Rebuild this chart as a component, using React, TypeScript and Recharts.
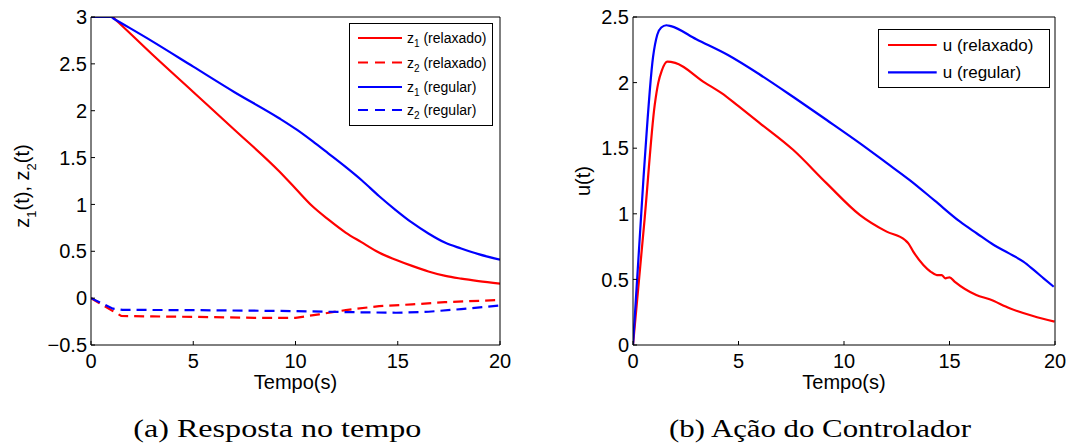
import React from 'react';
import { LineChart, Line, XAxis, YAxis, Legend } from 'recharts';

// ---------- data ----------
const timeTicks = [0, 5, 10, 15, 20];
const zTicks = [-0.5, 0, 0.5, 1, 1.5, 2, 2.5, 3];
const uTicks = [0, 0.5, 1, 1.5, 2, 2.5];

const tZ1Rel = [0, 1.06, 1.15, 3, 5, 7, 9.2, 10, 10.83, 11.6, 12.45, 13.2, 14.08, 14.9, 15.7, 16.5, 17.33, 18.1, 18.95, 20];
const z1Rel = [3, 3, 2.982, 2.6, 2.2, 1.8, 1.354, 1.17, 0.98, 0.84, 0.7, 0.6, 0.486, 0.41, 0.344, 0.285, 0.237, 0.208, 0.182, 0.155];

const tZ2Rel = [0, 1.07, 1.48, 3, 5, 8, 10, 11.15, 12.46, 14.09, 15.7, 17.3, 20];
const z2Rel = [0, -0.138, -0.19, -0.195, -0.2, -0.21, -0.21, -0.173, -0.127, -0.085, -0.067, -0.043, -0.02];

const tZ1Reg = [0, 0.98, 1.08, 3, 5, 7, 9.2, 10.08, 10.83, 11.6, 12.45, 13.25, 14.08, 14.9, 15.7, 16.5, 17.33, 18.1, 18.95, 20];
const z1Reg = [3, 3, 2.987, 2.74, 2.47, 2.2, 1.92, 1.795, 1.675, 1.545, 1.4, 1.255, 1.09, 0.94, 0.805, 0.69, 0.59, 0.53, 0.47, 0.41];

const tZ2Reg = [0, 1.07, 1.55, 5, 10, 12.46, 14.9, 16.5, 18.1, 20];
const z2Reg = [0, -0.112, -0.125, -0.128, -0.138, -0.149, -0.156, -0.145, -0.117, -0.078];

const tURel = [0, 0.55, 1.03, 1.2, 1.36, 1.63, 2, 3.4, 4.2, 5, 6.02, 7.6, 9.18, 10.76, 12.02, 12.89, 13.05, 13.29, 13.76, 14.1, 14.4, 14.63, 14.8, 15.0, 15.24, 16.27, 16.9, 17.85, 18.96, 19.98];
const uRel = [0, 0.96, 1.83, 2.0, 2.09, 2.16, 2.15, 2.0, 1.92, 1.82, 1.69, 1.486, 1.232, 0.99, 0.864, 0.8, 0.775, 0.71, 0.61, 0.56, 0.533, 0.533, 0.508, 0.516, 0.483, 0.381, 0.348, 0.28, 0.221, 0.178];

const tUReg = [0, 0.5, 0.95, 1.15, 1.34, 1.58, 1.8, 3, 4.5, 6.02, 7.6, 9.18, 10.76, 12, 13.13, 14.3, 15.5, 16.3, 17.1, 17.8, 18.5, 18.99, 19.46, 19.94];
const uReg = [0, 1.28, 2.195, 2.365, 2.42, 2.437, 2.43, 2.33, 2.21, 2.06, 1.89, 1.715, 1.537, 1.39, 1.255, 1.1, 0.94, 0.85, 0.762, 0.7, 0.635, 0.572, 0.508, 0.444];

const captionA = '(a) Resposta no tempo';
const captionB = '(b) Ação do Controlador';
const xTitle = 'Tempo(s)';

const pairs = (t: number[], v: number[]) => t.map((x, i) => ({ t: x, v: v[i] }));

const RED = '#ff0000';
const BLUE = '#0000ff';
const FONT = '"Liberation Sans", Arial, Helvetica, sans-serif';

const fmt = (v: number) => (v < 0 ? '\u2212' + String(Math.abs(v)) : String(v));

const axisCommon = {
  axisLine: { stroke: '#000', strokeWidth: 1 },
  tickLine: { stroke: '#000', strokeWidth: 1 },
  tickSize: -4,
  interval: 0 as const,
  allowDataOverflow: true,
};

const XTitle = (props: any) => {
  const vb = props.viewBox || {};
  return (
    <text x={vb.x + vb.width / 2} y={vb.y + 44} textAnchor="middle" fontSize={20} fill="#000" fontFamily={FONT}>
      {xTitle}
    </text>
  );
};

const ZTitle = (props: any) => {
  const vb = props.viewBox || {};
  const x = vb.x + 28.5;
  const y = vb.y + vb.height / 2 + 5;
  return (
    <text x={x} y={y} transform={`rotate(-90 ${x} ${y})`} textAnchor="middle" fontSize={20} fill="#000" fontFamily={FONT}>
      z<tspan fontSize={13} dy={7}>1</tspan>
      <tspan dy={-7}>(t), z</tspan>
      <tspan fontSize={13} dy={7}>2</tspan>
      <tspan dy={-7}>(t)</tspan>
    </text>
  );
};

const UTitle = (props: any) => {
  const vb = props.viewBox || {};
  const x = vb.x + 49.7;
  const y = vb.y + vb.height / 2;
  return (
    <text x={x} y={y} transform={`rotate(-90 ${x} ${y})`} textAnchor="middle" fontSize={20} fill="#000" fontFamily={FONT}>
      u(t)
    </text>
  );
};

type LegItem = { main: string; sub?: string; rest: string; color: string; dashed: boolean };

const legendZ: LegItem[] = [
  { main: 'z', sub: '1', rest: ' (relaxado)', color: RED, dashed: false },
  { main: 'z', sub: '2', rest: ' (relaxado)', color: RED, dashed: true },
  { main: 'z', sub: '1', rest: ' (regular)', color: BLUE, dashed: false },
  { main: 'z', sub: '2', rest: ' (regular)', color: BLUE, dashed: true },
];
const legendU: LegItem[] = [
  { main: 'u', rest: ' (relaxado)', color: RED, dashed: false },
  { main: 'u', rest: ' (regular)', color: BLUE, dashed: false },
];

const LegendBox = ({ items, w, h, rows, x1, x2, tx, fs, sfs }: any) => (
  <div style={{ position: 'relative', width: w, height: h, border: '1px solid #000', boxSizing: 'border-box', background: '#fff', fontFamily: FONT }}>
    <svg width={w} height={h} style={{ position: 'absolute', left: -1, top: -1 }}>
      {items.map((it: LegItem, i: number) => (
        <line key={i} x1={x1} x2={x2} y1={rows[i]} y2={rows[i]} stroke={it.color} strokeWidth={2.2} strokeDasharray={it.dashed ? '10 7' : undefined} />
      ))}
      {items.map((it: LegItem, i: number) => (
        <text key={'t' + i} x={tx} y={rows[i] + fs * 0.36} fontSize={fs} fill="#000" fontFamily={FONT}>
          {it.main}
          {it.sub ? <tspan fontSize={sfs} dy={4}>{it.sub}</tspan> : null}
          <tspan dy={it.sub ? -4 : 0}>{it.rest}</tspan>
        </text>
      ))}
    </svg>
  </div>
);

export default function App() {
  return (
    <div style={{ position: 'absolute', left: 0, top: 0, width: 1066, height: 448, background: '#fff', fontFamily: FONT }}>
      <div style={{ position: 'absolute', left: 0, top: 0 }}>
        <LineChart width={520} height={400} margin={{ top: 16, right: 19, bottom: 0, left: 0 }}>
          <XAxis xAxisId="b" dataKey="t" type="number" domain={[0, 20]} ticks={timeTicks} orientation="bottom" height={55}
            tickMargin={13} tick={{ fontSize: 20, fill: '#000', fontFamily: FONT }} label={XTitle} {...axisCommon} />
          <XAxis xAxisId="t" dataKey="t" type="number" domain={[0, 20]} ticks={timeTicks} orientation="top" height={1}
            tick={false} {...axisCommon} />
          <YAxis yAxisId="l" type="number" domain={[-0.5, 3]} ticks={zTicks} width={91} tickMargin={8}
            tickFormatter={fmt} tick={{ fontSize: 20, fill: '#000', fontFamily: FONT }} label={ZTitle} {...axisCommon} />
          <YAxis yAxisId="r" type="number" orientation="right" domain={[-0.5, 3]} ticks={zTicks} width={1}
            tick={false} {...axisCommon} />
          <Line xAxisId="b" yAxisId="l" data={pairs(tZ1Rel, z1Rel)} dataKey="v" name="z1 (relaxado)" stroke={RED} strokeWidth={2.2} dot={false} type="monotone" isAnimationActive={false} />
          <Line xAxisId="b" yAxisId="l" data={pairs(tZ2Rel, z2Rel)} dataKey="v" name="z2 (relaxado)" stroke={RED} strokeWidth={2.2} strokeDasharray="10 6" dot={false} type="linear" isAnimationActive={false} />
          <Line xAxisId="b" yAxisId="l" data={pairs(tZ1Reg, z1Reg)} dataKey="v" name="z1 (regular)" stroke={BLUE} strokeWidth={2.2} dot={false} type="monotone" isAnimationActive={false} />
          <Line xAxisId="b" yAxisId="l" data={pairs(tZ2Reg, z2Reg)} dataKey="v" name="z2 (regular)" stroke={BLUE} strokeWidth={2.2} strokeDasharray="10 6" dot={false} type="linear" isAnimationActive={false} />
          <Legend verticalAlign="middle" align="center" layout="horizontal"
            wrapperStyle={{ left: 349, top: 23, width: 144, height: 103 }}
            content={() => <LegendBox items={legendZ} w={144} h={103} rows={[15, 39.5, 64, 87]} x1={9} x2={53} tx={58} fs={14} sfs={10} />} />
        </LineChart>
      </div>
      <div style={{ position: 'absolute', left: 540, top: 0 }}>
        <LineChart width={526} height={400} margin={{ top: 16, right: 10, bottom: 0, left: 0 }}>
          <XAxis xAxisId="b" dataKey="t" type="number" domain={[0, 20]} ticks={timeTicks} orientation="bottom" height={55}
            tickMargin={13} tick={{ fontSize: 20, fill: '#000', fontFamily: FONT }} label={XTitle} {...axisCommon} />
          <XAxis xAxisId="t" dataKey="t" type="number" domain={[0, 20]} ticks={timeTicks} orientation="top" height={1}
            tick={false} {...axisCommon} />
          <YAxis yAxisId="l" type="number" domain={[0, 2.5]} ticks={uTicks} width={93} tickMargin={8}
            tickFormatter={fmt} tick={{ fontSize: 20, fill: '#000', fontFamily: FONT }} label={UTitle} {...axisCommon} />
          <YAxis yAxisId="r" type="number" orientation="right" domain={[0, 2.5]} ticks={uTicks} width={1}
            tick={false} {...axisCommon} />
          <Line xAxisId="b" yAxisId="l" data={pairs(tURel, uRel)} dataKey="v" name="u (relaxado)" stroke={RED} strokeWidth={2.2} dot={false} type="monotone" isAnimationActive={false} />
          <Line xAxisId="b" yAxisId="l" data={pairs(tUReg, uReg)} dataKey="v" name="u (regular)" stroke={BLUE} strokeWidth={2.2} dot={false} type="monotone" isAnimationActive={false} />
          <Legend verticalAlign="middle" align="center" layout="horizontal"
            wrapperStyle={{ left: 338, top: 29, width: 172, height: 59 }}
            content={() => <LegendBox items={legendU} w={172} h={59} rows={[16, 43.3]} x1={10} x2={58.7} tx={64.7} fs={17} sfs={12} />} />
        </LineChart>
      </div>
      <svg width={1066} height={448} style={{ position: 'absolute', left: 0, top: 0, pointerEvents: 'none' }}>
        <text x={133.3} y={436.7} fontSize={25} fontFamily='"Liberation Serif", "Times New Roman", serif' fill="#000" textLength={288} lengthAdjust="spacingAndGlyphs">{captionA}</text>
        <text x={669} y={436.7} fontSize={25} fontFamily='"Liberation Serif", "Times New Roman", serif' fill="#000" textLength={302} lengthAdjust="spacingAndGlyphs">{captionB}</text>
      </svg>
    </div>
  );
}
